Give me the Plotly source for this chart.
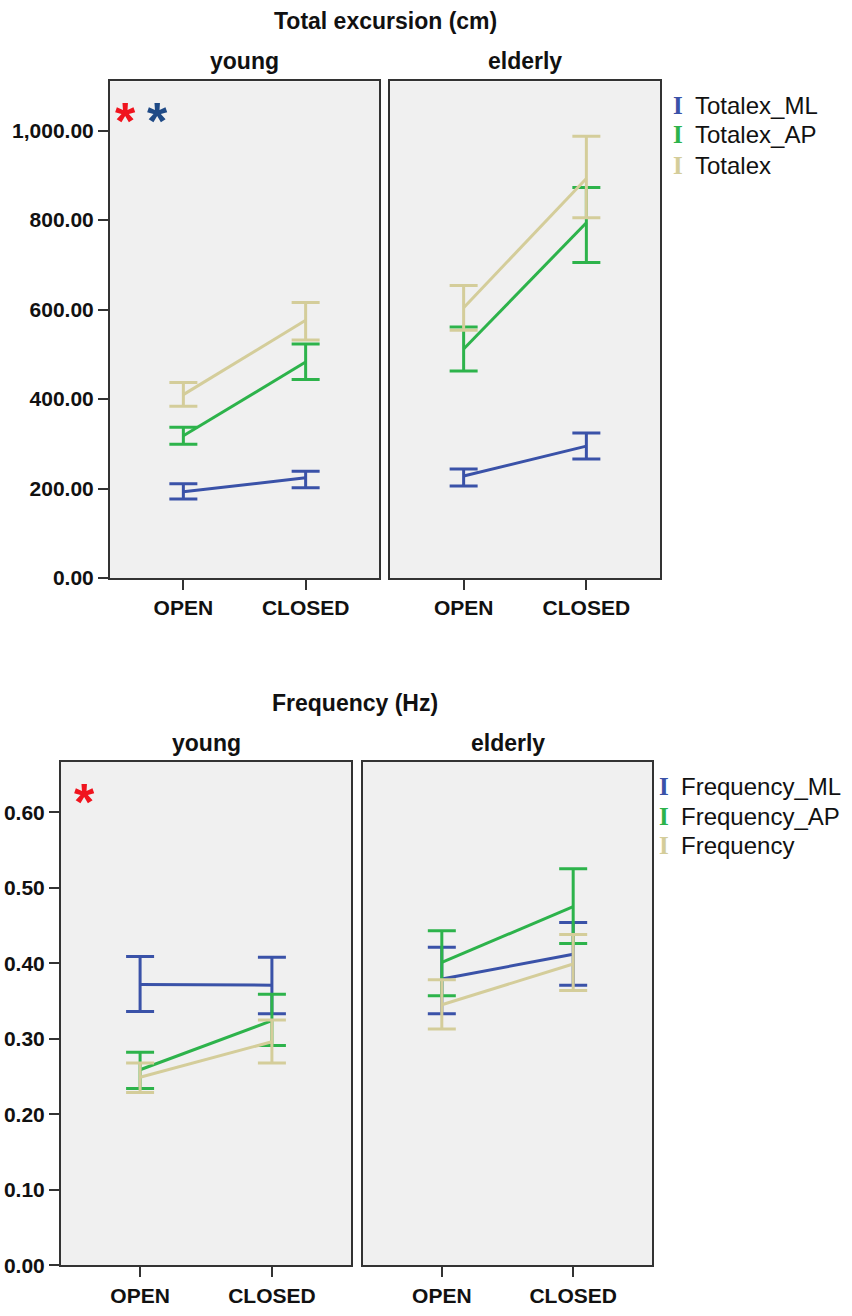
import plotly.graph_objects as go

# ---------------- data ----------------
conditions = ["OPEN", "CLOSED"]
groups = ["young", "elderly"]

# order of values: young OPEN, young CLOSED, elderly OPEN, elderly CLOSED
totalex_ml_mean = [193, 224, 228, 295]
totalex_ml_low = [177, 202, 206, 266]
totalex_ml_high = [211, 239, 244, 324]
totalex_ap_mean = [318, 483, 512, 794]
totalex_ap_low = [299, 444, 463, 705]
totalex_ap_high = [337, 523, 561, 873]
totalex_mean = [410, 576, 604, 893]
totalex_low = [384, 532, 554, 805]
totalex_high = [437, 616, 654, 987]

freq_ml_mean = [0.372, 0.371, 0.379, 0.412]
freq_ml_low = [0.336, 0.333, 0.333, 0.371]
freq_ml_high = [0.409, 0.408, 0.421, 0.454]
freq_ap_mean = [0.259, 0.324, 0.401, 0.475]
freq_ap_low = [0.234, 0.291, 0.357, 0.426]
freq_ap_high = [0.282, 0.359, 0.443, 0.525]
freq_mean = [0.249, 0.296, 0.345, 0.399]
freq_low = [0.229, 0.268, 0.313, 0.364]
freq_high = [0.268, 0.325, 0.378, 0.438]

top_names = ["Totalex_ML", "Totalex_AP", "Totalex"]
bottom_names = ["Frequency_ML", "Frequency_AP", "Frequency"]
top_ticks = [0, 200, 400, 600, 800, 1000]
bottom_ticks = [0, 0.1, 0.2, 0.3, 0.4, 0.5, 0.6]

# ---------------- style ----------------
W, H = 852, 1316
COLORS = ["#3A52A8", "#2DB34B", "#D4CD9A"]
FONT = "Liberation Sans, Arial, sans-serif"
PANEL_BG = "#F0F0F0"
LINE_C = "#333333"


def px(x):
    return x / W


def py(y):
    return 1 - y / H


fig = go.Figure()

top_data = [
    (totalex_ml_mean, totalex_ml_low, totalex_ml_high),
    (totalex_ap_mean, totalex_ap_low, totalex_ap_high),
    (totalex_mean, totalex_low, totalex_high),
]
bottom_data = [
    (freq_ml_mean, freq_ml_low, freq_ml_high),
    (freq_ap_mean, freq_ap_low, freq_ap_high),
    (freq_mean, freq_low, freq_high),
]

axis_ids = [("x", "y"), ("x2", "y2"), ("x3", "y3"), ("x4", "y4")]


def add_chart(data, names, ax_offset):
    for g in range(2):
        xa, ya = axis_ids[ax_offset + g]
        for s, (m, lo, hi) in enumerate(data):
            mm = m[2 * g:2 * g + 2]
            ll = lo[2 * g:2 * g + 2]
            hh = hi[2 * g:2 * g + 2]
            fig.add_trace(go.Scatter(
                x=conditions, y=mm, mode="lines", name=names[s],
                line=dict(color=COLORS[s], width=3),
                error_y=dict(type="data", symmetric=False,
                             array=[h - v for h, v in zip(hh, mm)],
                             arrayminus=[v - l for v, l in zip(mm, ll)],
                             color=COLORS[s], thickness=3, width=14),
                xaxis=xa, yaxis=ya, showlegend=False, hoverinfo="skip"))


add_chart(top_data, top_names, 0)
add_chart(bottom_data, bottom_names, 2)

xcommon = dict(type="category", range=[-0.6, 1.6], showline=True, mirror=True,
               linecolor=LINE_C, linewidth=2, ticks="outside", ticklen=10,
               tickwidth=2, tickcolor=LINE_C, showgrid=False, zeroline=False,
               tickfont=dict(family=FONT, size=21, color="#111", weight="bold"),
               fixedrange=True)
ycommon = dict(showline=True, mirror=True, linecolor=LINE_C, linewidth=2,
               showgrid=False, zeroline=False, fixedrange=True,
               tickfont=dict(family=FONT, size=21, color="#111", weight="bold"),
               tickwidth=2, tickcolor=LINE_C, ticklen=10)

panels = {
    1: ([110, 379], [82, 583]),
    2: ([390, 660], [82, 583]),
    3: ([61, 351], [768, 1276]),
    4: ([363, 652], [768, 1276]),
}

layout = dict(width=W, height=H, margin=dict(l=0, r=0, t=0, b=0),
              paper_bgcolor="white", plot_bgcolor=PANEL_BG, showlegend=False)

for i, (xd, yd) in panels.items():
    xs = "" if i == 1 else str(i)
    xdom = [px(xd[0]), px(xd[1])]
    ydom = [py(yd[1]), py(yd[0])]
    xa = dict(xcommon, domain=xdom, anchor="y" + xs)
    ya = dict(ycommon, domain=ydom, anchor="x" + xs)
    if i in (1, 2):
        ya["range"] = [0, 1110]
        ya["tickvals"] = top_ticks
        ya["tickformat"] = ",.2f"
    else:
        ya["range"] = [0, 0.667]
        ya["tickvals"] = bottom_ticks
        ya["tickformat"] = ".2f"
    if i in (2, 4):
        ya["showticklabels"] = False
        ya["ticks"] = ""
    else:
        ya["ticks"] = "outside"
    layout["xaxis" + xs] = xa
    layout["yaxis" + xs] = ya

fig.update_layout(**layout)

annotations = []


def text(x, y, s, size, color="#111", bold=True, family=FONT, xanchor="center"):
    annotations.append(dict(
        x=px(x), y=py(y), xref="paper", yref="paper", text=s, showarrow=False,
        xanchor=xanchor, yanchor="middle",
        font=dict(family=family, size=size, color=color,
                  weight="bold" if bold else "normal")))


# titles
text(385, 21, "Total excursion (cm)", 23)
text(244, 62, groups[0], 23)
text(525, 62, groups[1], 23)
text(355, 709, "Frequency (Hz)", 23)
text(206, 749, groups[0], 23)
text(508, 749, groups[1], 23)

# significance asterisks
text(125, 122, "*", 52, color="#F0141E")
text(157, 122, "*", 52, color="#1F4A86")
text(84, 809, "*", 52, color="#F0141E")

# legends
SERIF = "Liberation Serif, Times New Roman, serif"
for k, yy in enumerate([106, 136, 167]):
    text(678, yy, "I", 25, color=COLORS[k], bold=True, family=SERIF)
    text(693, yy, top_names[k], 24, bold=False, xanchor="left")
for k, yy in enumerate([793, 823, 853]):
    text(664, yy, "I", 25, color=COLORS[k], bold=True, family=SERIF)
    text(679, yy, bottom_names[k], 24, bold=False, xanchor="left")

fig.update_layout(annotations=annotations)

fig.write_html("out.html")
